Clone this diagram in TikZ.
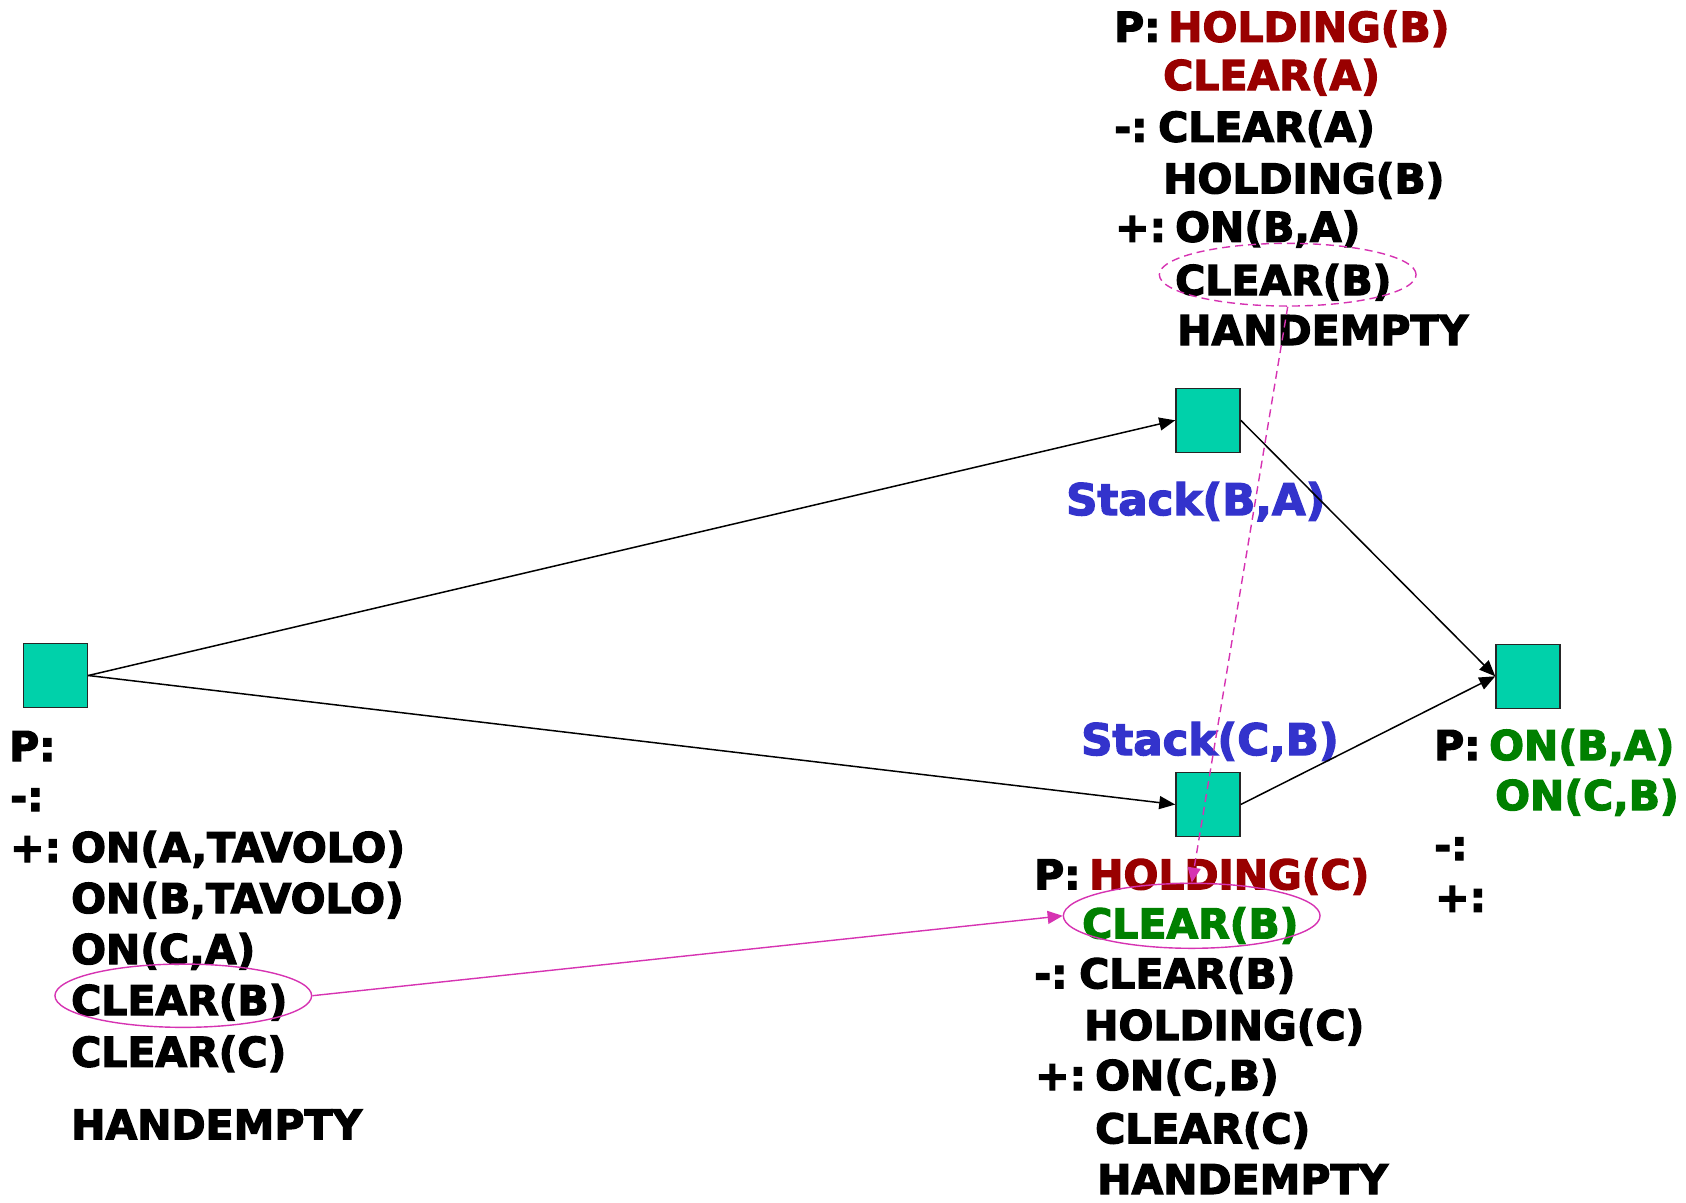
\documentclass[tikz,border=0pt]{standalone}
\usepackage{fontspec}
\setmainfont{DejaVu Sans}[BoldFeatures={FakeBold=3}]
\usetikzlibrary{arrows.meta,shapes.geometric}
\definecolor{boxfill}{RGB}{0,209,170}
\definecolor{precond}{RGB}{153,0,0}
\definecolor{goalgreen}{RGB}{0,128,0}
\definecolor{opblue}{RGB}{51,51,204}
\definecolor{linkpink}{RGB}{214,51,178}
\tikzset{
  stepsq/.style={draw=black!85, fill=boxfill, line width=1.5pt, minimum size=64pt, inner sep=0, rectangle},
  txt/.style={anchor=base west, inner sep=0, font=\fontsize{41}{41}\bfseries\selectfont},
  oplabel/.style={anchor=base west, inner sep=0, text=opblue, font=\fontsize{43.5}{43.5}\bfseries\selectfont},
  arr/.style={line width=1.5pt, -{Triangle[length=16pt,width=13pt]}},
  causal/.style={draw=linkpink, line width=1.4pt, ellipse, inner sep=0},
  plink/.style={linkpink, line width=1.4pt, -{Triangle[length=15pt,width=13pt]}},
}
\begin{document}
\begin{tikzpicture}[x=1pt,y=-1pt]
\useasboundingbox (0,0) rectangle (1686,1202);

% Stack(B,A): preconditions and effects
\node[txt] (tp) at (1114,41.7) {P:};
\node[txt, text=precond] (tp1) at (1168,41.7) {HOLDING(B)};
\node[txt, text=precond] (tp2) at (1163,90) {CLEAR(A)};
\node[txt] (tm) at (1114,141.7) {-:};
\node[txt] (tm1) at (1158,141.7) {CLEAR(A)};
\node[txt] (tm2) at (1163,193.3) {HOLDING(B)};
\node[txt] (ta) at (1115,241.7) {+:};
\node[txt] (ta1) at (1175,241.7) {ON(B,A)};
\node[txt] (ta2) at (1175,295) {CLEAR(B)};
\node[txt] (ta3) at (1177,345) {HANDEMPTY};

% Start step
\node[txt] (lp) at (9,761) {P:};
\node[txt] (lm) at (10,811) {-:};
\node[txt] (la) at (10,862) {+:};
\node[txt] (la1) at (71,862) {ON(A,TAVOLO)};
\node[txt] (la2) at (71,913) {ON(B,TAVOLO)};
\node[txt] (la3) at (71,964) {ON(C,A)};
\node[txt] (la4) at (71,1015) {CLEAR(B)};
\node[txt] (la5) at (71,1066.7) {CLEAR(C)};
\node[txt] (la6) at (71,1139.3) {HANDEMPTY};

% Stack(C,B): preconditions and effects
\node[txt] (bp) at (1034,889.3) {P:};
\node[txt, text=precond] (bp1) at (1089,889.3) {HOLDING(C)};
\node[txt, text=goalgreen] (bp2) at (1082,938.3) {CLEAR(B)};
\node[txt] (bm) at (1034,988.3) {-:};
\node[txt] (bm1) at (1079,988.3) {CLEAR(B)};
\node[txt] (bm2) at (1084,1040) {HOLDING(C)};
\node[txt] (ba) at (1035,1090) {+:};
\node[txt] (ba1) at (1095,1090) {ON(C,B)};
\node[txt] (ba2) at (1095,1143.3) {CLEAR(C)};
\node[txt] (ba3) at (1097,1194) {HANDEMPTY};

% Finish step
\node[txt] (rp) at (1434,760) {P:};
\node[txt, text=goalgreen] (rp1) at (1489,760) {ON(B,A)};
\node[txt, text=goalgreen] (rp2) at (1495,810) {ON(C,B)};
\node[txt] (rm) at (1434,860) {-:};
\node[txt] (ra) at (1435,911.7) {+:};

% Operator names
\node[oplabel] (opba) at (1066,515) {Stack(B,A)};
\node[oplabel] (opcb) at (1081,755) {Stack(C,B)};

% Plan steps
\node[stepsq] (start) at (55.5,675.5) {};
\node[stepsq] (sba) at (1208,420.3) {};
\node[stepsq] (scb) at (1208,804.5) {};
\node[stepsq] (finish) at (1528,676.3) {};

% Ordering constraints
\draw[arr] (start.east) -- (sba.west);
\draw[arr] (start.east) -- (scb.west);
\draw[arr] (sba.east) -- (finish.west);
\draw[arr] (scb.east) -- (finish.west);

% Causal links
\node[causal, minimum width=256.7pt, minimum height=63.3pt] (cstart) at (183.3,995.7) {};
\node[causal, minimum width=256.7pt, minimum height=65pt] (ccb) at (1191.7,915.8) {};
\node[causal, dashed, dash pattern=on 8pt off 5pt, minimum width=256.7pt, minimum height=62.7pt] (cba) at (1287.7,274.7) {};
\draw[plink] (cstart.east) -- (ccb.west);
\draw[plink, dash pattern=on 8pt off 5pt] (cba.south) -- (ccb.north);
\end{tikzpicture}
\end{document}
